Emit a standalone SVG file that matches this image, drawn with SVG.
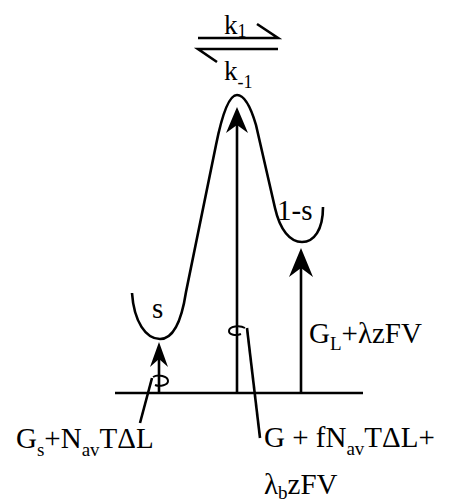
<svg xmlns="http://www.w3.org/2000/svg" width="469" height="504" viewBox="0 0 469 504">
<style>
.ln{fill:none;stroke:#000;stroke-width:2.6}
.ah{fill:#000;stroke:none}
.lp{fill:none;stroke:#000;stroke-width:2}
</style>
<rect width="469" height="504" fill="#fff"/>
<g id="equilibrium">
<path class="ln" d="M198,38 H278 L257,24"/>
<path class="ln" d="M278,49 H198 L217,62"/>
<text x="224" y="34" font-family="Liberation Serif, Tinos, serif" font-size="27">k<tspan font-family="Liberation Serif, Tinos, serif" font-size="18" dy="3">1</tspan></text>
<text x="224" y="80" font-family="Liberation Serif, Tinos, serif" font-size="27">k<tspan font-family="Liberation Serif, Tinos, serif" font-size="18" dy="8">-1</tspan></text>
</g>
<g id="energy-curve">
<path class="ln" d="M132,293 C134,322 146,339 160,339 C174,339 182,318 186,292 L216,145 C222,115 229,95 237,95 C245,95 251,108 256,125 L275,208 C280,230 290,242 302,242 C314,242 323,230 323,207"/>
<text x="152" y="318" font-family="Liberation Serif, Tinos, serif" font-size="29">s</text>
<text x="277" y="220" font-family="Liberation Serif, Tinos, serif" font-size="29">1-s</text>
</g>
<g id="baseline">
<path class="ln" d="M115,393 H363"/>
</g>
<g id="connectors">
<path class="ln" d="M237,393 V118"/>
<path class="ah" d="M237,107 L226,133 L237,125 L248,133 Z"/>
<path class="ln" d="M301,393 V258"/>
<path class="ah" d="M301,248 L289,277 L301,268 L313,277 Z"/>
<path class="ln" d="M159,393 V352"/>
<path class="ah" d="M159,342 L150,367 L159,359 L168,367 Z"/>
<path class="lp" d="M153,377 C158,374 168,376 168,381 C168,385 160,387 155,385"/>
<path class="ln" d="M152,378 L140,423"/>
<path class="lp" d="M245,328 C240,325 229,326 229,331 C229,335 236,336 241,334"/>
<path class="ln" d="M247,328 L260,438"/>
</g>
<g id="label-GL">
<text x="309" y="343" font-family="Liberation Serif, Tinos, serif" font-size="29">G<tspan font-family="Liberation Serif, Tinos, serif" font-size="19" dy="7">L</tspan><tspan font-family="Liberation Serif, Tinos, serif" dy="-7">+λzFV</tspan></text>
</g>
<g id="label-Gs">
<text x="16" y="448" font-family="Liberation Serif, Tinos, serif" font-size="29">G<tspan font-family="Liberation Serif, Tinos, serif" font-size="19" dy="8">s</tspan><tspan font-family="Liberation Serif, Tinos, serif" dy="-8">+N</tspan><tspan font-family="Liberation Serif, Tinos, serif" font-size="19" dy="8">av</tspan><tspan font-family="Liberation Serif, Tinos, serif" dy="-8">TΔL</tspan></text>
</g>
<g id="label-G">
<text x="264" y="447" font-family="Liberation Serif, Tinos, serif" font-size="29">G + fN<tspan font-family="Liberation Serif, Tinos, serif" font-size="19" dy="8">av</tspan><tspan font-family="Liberation Serif, Tinos, serif" dy="-8">TΔL+</tspan></text>
<text x="264" y="494" font-family="Liberation Serif, Tinos, serif" font-size="29">λ<tspan font-family="Liberation Serif, Tinos, serif" font-size="19" dy="5">b</tspan><tspan font-family="Liberation Serif, Tinos, serif" dy="-5">zFV</tspan></text>
</g>
</svg>
